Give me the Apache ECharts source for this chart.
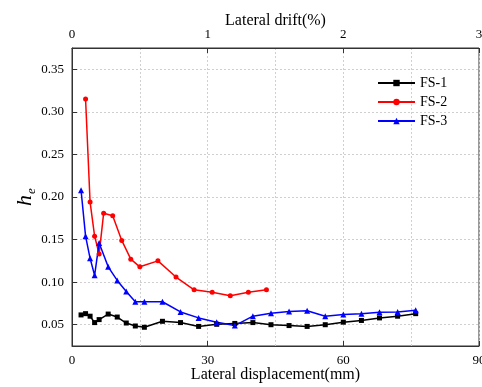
<!DOCTYPE html>
<html>
<head>
<meta charset="utf-8">
<script src="https://cdn.jsdelivr.net/npm/echarts@6/dist/echarts.min.js"></script>
<style>html,body{margin:0;padding:0;background:#fff}#c{width:482px;height:387px}</style>
</head>
<body>
<div id="c"></div>
<script>
// Lateral displacement (mm)
var dispFS1 = [2, 3, 4, 5, 6, 8, 10, 12, 14, 16, 20, 24, 28, 32, 36, 40, 44, 48, 52, 56, 60, 64, 68, 72, 76];
var heFS1 = [0.0615, 0.063, 0.060, 0.0525, 0.056, 0.0625, 0.059, 0.052, 0.0485, 0.047, 0.054, 0.0525, 0.048, 0.0505, 0.0515, 0.0525, 0.050, 0.049, 0.048, 0.050, 0.053, 0.055, 0.058, 0.060, 0.063];
var dispFS2 = [3, 4, 5, 6, 7, 9, 11, 13, 15, 19, 23, 27, 31, 35, 39, 43];
var heFS2 = [0.315, 0.194, 0.154, 0.133, 0.181, 0.178, 0.149, 0.127, 0.118, 0.125, 0.106, 0.091, 0.088, 0.084, 0.088, 0.091];
var dispFS3 = [2, 3, 4, 5, 6, 8, 10, 12, 14, 16, 20, 24, 28, 32, 36, 40, 44, 48, 52, 56, 60, 64, 68, 72, 76];
var heFS3 = [0.208, 0.154, 0.128, 0.108, 0.146, 0.118, 0.102, 0.089, 0.077, 0.077, 0.077, 0.065, 0.058, 0.053, 0.049, 0.060, 0.0635, 0.0655, 0.0665, 0.060, 0.062, 0.063, 0.0645, 0.065, 0.067];
var seriesNames = ['FS-1', 'FS-2', 'FS-3'];
var bottomTicks = [0, 30, 60, 90];
var topTicks = [0, 1, 2, 3];
var yTickLabels = [0.05, 0.10, 0.15, 0.20, 0.25, 0.30, 0.35];

function pairs(xs, ys) { return xs.map(function (x, i) { return [x, ys[i]]; }); }

var FONT = 'Liberation Serif';
var AX = '#333';
var grid = { lineStyle: { color: '#cfcfcf', type: [2, 2], width: 1 } };

var chart = echarts.init(document.getElementById('c'), null, { renderer: 'canvas' });
chart.setOption({
  animation: false,
  backgroundColor: '#fff',
  textStyle: { fontFamily: FONT },
  grid: { left: 72, right: 3, top: 48, bottom: 41, show: true, borderColor: AX, borderWidth: 1, backgroundColor: 'transparent', containLabel: false, outerBoundsMode: 'none' },
  legend: {
    data: seriesNames,
    orient: 'vertical',
    left: 372, top: 71,
    itemWidth: 37, itemHeight: 8, itemGap: 5,
    textStyle: { fontFamily: FONT, fontSize: 14, color: '#000' }
  },
  xAxis: [{
    type: 'value', position: 'bottom',
    min: bottomTicks[0], max: bottomTicks[bottomTicks.length - 1], interval: 30,
    name: 'Lateral displacement(mm)', nameLocation: 'middle', nameGap: 21, nameMoveOverlap: false,
    nameTextStyle: { fontFamily: FONT, fontSize: 16, color: '#000' },
    axisLine: { show: true, lineStyle: { color: AX } },
    axisTick: { show: true, inside: true, length: 5, lineStyle: { color: AX } },
    minorTick: { show: false, splitNumber: 2 },
    axisLabel: { fontFamily: FONT, fontSize: 13, color: '#000', margin: 8 },
    splitLine: grid,
    minorSplitLine: { show: true, lineStyle: grid.lineStyle }
  }, {
    type: 'value', position: 'top',
    min: topTicks[0], max: topTicks[topTicks.length - 1], interval: 1,
    name: 'Lateral drift(%)', nameLocation: 'middle', nameGap: 19, nameMoveOverlap: false,
    nameTextStyle: { fontFamily: FONT, fontSize: 16, color: '#000' },
    axisLine: { show: true, lineStyle: { color: AX } },
    axisTick: { show: true, inside: true, length: 5, lineStyle: { color: AX } },
    axisLabel: { fontFamily: FONT, fontSize: 13, color: '#000', margin: 7 },
    splitLine: { show: false }
  }],
  yAxis: {
    type: 'value',
    min: 0.025, max: 0.375, splitNumber: 7,
    name: '{a|h}{b|e}', nameLocation: 'middle', nameGap: 34, nameRotate: 90, nameMoveOverlap: false,
    nameTextStyle: {
      rich: {
        a: { fontFamily: FONT, fontStyle: 'italic', fontSize: 22, color: '#000' },
        b: { fontFamily: FONT, fontStyle: 'italic', fontSize: 13, color: '#000', verticalAlign: 'bottom', padding: [12, 0, 0, 1] }
      }
    },
    axisLine: { show: true, lineStyle: { color: AX } },
    axisTick: { show: true, inside: true, length: 5, lineStyle: { color: AX } },
    axisLabel: {
      fontFamily: FONT, fontSize: 13, color: '#000', margin: 8,
      showMinLabel: false, showMaxLabel: false,
      formatter: function (v) {
        for (var i = 0; i < yTickLabels.length; i++) {
          if (Math.abs(v - yTickLabels[i]) < 1e-6) return yTickLabels[i].toFixed(2);
        }
        return '';
      }
    },
    splitLine: grid
  },
  series: [{
    name: seriesNames[0], type: 'line', xAxisIndex: 0,
    data: pairs(dispFS1, heFS1),
    symbol: 'rect', symbolSize: 5,
    lineStyle: { color: '#000', width: 1.5 }, itemStyle: { color: '#000' }
  }, {
    name: seriesNames[1], type: 'line', xAxisIndex: 0,
    data: pairs(dispFS2, heFS2),
    symbol: 'circle', symbolSize: 5,
    lineStyle: { color: '#ff0000', width: 1.5 }, itemStyle: { color: '#ff0000' }
  }, {
    name: seriesNames[2], type: 'line', xAxisIndex: 0,
    data: pairs(dispFS3, heFS3),
    symbol: 'triangle', symbolSize: 6,
    lineStyle: { color: '#0000ff', width: 1.5 }, itemStyle: { color: '#0000ff' }
  }]
});
</script>
</body>
</html>
